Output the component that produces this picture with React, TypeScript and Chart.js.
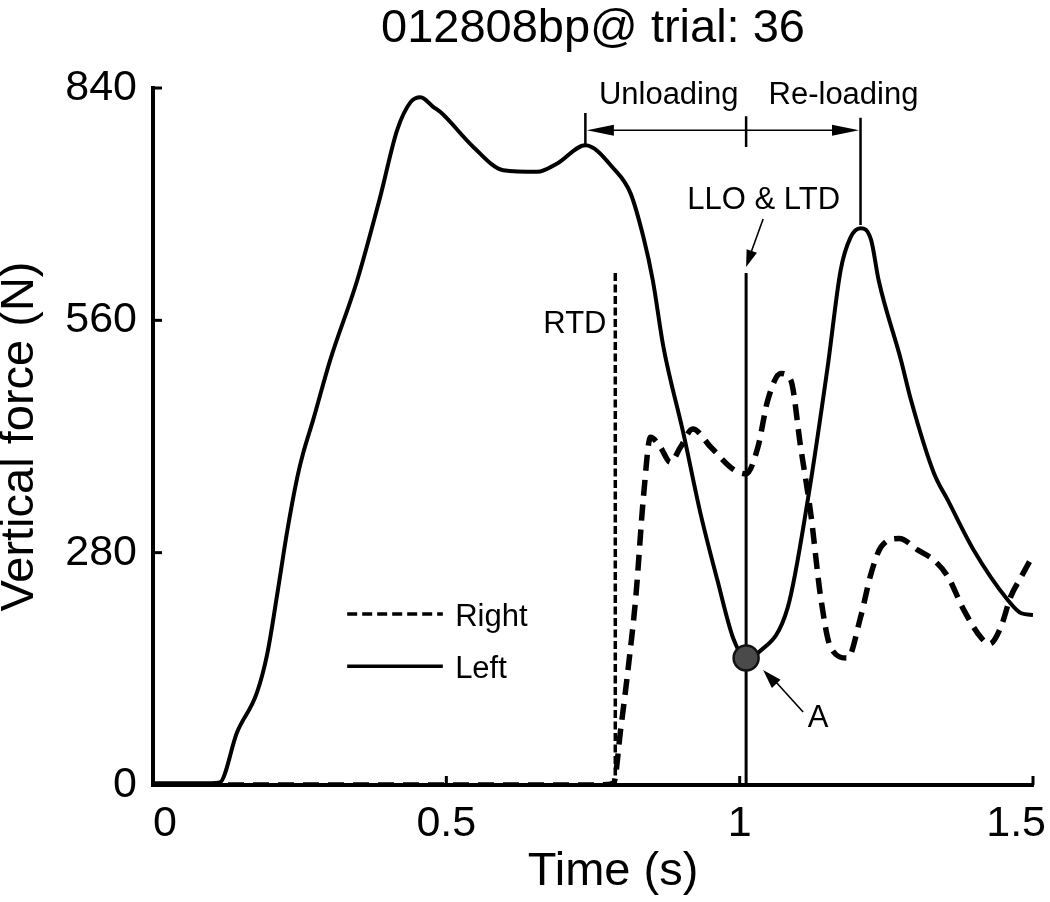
import React, { useEffect, useRef } from "react";
import { Chart, registerables } from "chart.js";

Chart.register(...registerables);

const FONT = "'Liberation Sans', Arial, Helvetica, sans-serif";

const TITLE = "012808bp@ trial: 36";
const X_LABEL = "Time (s)";
const Y_LABEL = "Vertical force (N)";

// Left foot vertical force (solid)
const leftTime = [
  0, 0.05, 0.1, 0.114, 0.143, 0.177, 0.195, 0.212, 0.229, 0.246, 0.256, 0.273,
  0.302, 0.348, 0.387, 0.416, 0.439, 0.456, 0.478, 0.49, 0.546, 0.597, 0.655,
  0.689, 0.737, 0.785, 0.814, 0.836, 0.852, 0.87, 0.904, 0.933, 0.962, 0.99,
  1.011, 1.031, 1.082, 1.116, 1.15, 1.172, 1.189, 1.206, 1.224, 1.237, 1.275,
  1.292, 1.331, 1.355, 1.399, 1.457, 1.48, 1.5,
];
const leftForce = [
  2, 2, 2, 3, 63, 111, 159, 231, 307, 371, 400, 440,
  512, 608, 708, 789, 823, 829, 817, 811, 769, 741, 739,
  749, 771, 743, 713, 660, 608, 528, 424, 328, 247, 175,
  153, 159, 214, 343, 504, 620, 660, 671, 657, 608, 512,
  464, 376, 343, 283, 223, 207, 205,
];

// Right foot vertical force (dashed)
const rightTime = [
  0, 0.4, 0.75, 0.785, 0.797, 0.811, 0.823, 0.836, 0.848, 0.865, 0.882, 0.899,
  0.92, 0.951, 0.99, 1.011, 1.031, 1.048, 1.07, 1.087, 1.104, 1.121, 1.138,
  1.155, 1.184, 1.206, 1.224, 1.241, 1.272, 1.304, 1.331, 1.355, 1.382, 1.411,
  1.426, 1.445, 1.462, 1.48, 1.5,
];
const rightForce = [
  0, 0, 0, 2, 66, 147, 227, 347, 419, 407, 389, 407,
  429, 407, 380, 375, 407, 464, 496, 488, 407, 328, 227,
  166, 153, 202, 255, 287, 297, 283, 271, 251, 211, 178,
  170, 190, 227, 251, 277,
];

const xTicks = [0, 0.5, 1, 1.5];
const xTickLabels = ["0", "0.5", "1", "1.5"];
const yTicks = [0, 280, 560, 840];

// Events / annotations (data coordinates)
const RTD_TIME = 0.788;
const LLO_TIME = 1.011;
const UNLOAD_START = 0.737;
const RELOAD_PEAK = 1.206;
const MARKER_TOP = 617;
const POINT_A_TIME = 1.011;
const POINT_A_FORCE = 153;
const BRACKET_FORCE = 789;
const BRACKET_TOP = 810;
const UNLOAD_TICK_BOTTOM = 771;
const MID_TICK_BOTTOM = 769;
const RELOAD_TICK_BOTTOM = 675;
const PHASE_LABELS = [
  { text: "Unloading", t: 0.879 },
  { text: "Re-loading", t: 1.177 },
];
const PHASE_LABEL_FORCE = 831;
const LLO_LABEL = { text: "LLO & LTD", t: 1.041, f: 704 };
const RTD_LABEL = { text: "RTD", t: 0.773, f: 555 };
const LEGEND_X0 = 0.331;
const LEGEND_X1 = 0.494;
const LEGEND_TEXT_X = 0.515;
const LEGEND_Y = [206, 143];

function arrowHead(
  ctx: CanvasRenderingContext2D,
  tipX: number,
  tipY: number,
  fromX: number,
  fromY: number,
  len: number,
  half: number
) {
  const ang = Math.atan2(tipY - fromY, tipX - fromX);
  const c = Math.cos(ang);
  const s = Math.sin(ang);
  ctx.beginPath();
  ctx.moveTo(tipX, tipY);
  ctx.lineTo(tipX - len * c + half * s, tipY - len * s - half * c);
  ctx.lineTo(tipX - len * c - half * s, tipY - len * s + half * c);
  ctx.closePath();
  ctx.fill();
}

const overlay = {
  id: "overlay",
  beforeDatasetsDraw(chart: any) {
    const ctx: CanvasRenderingContext2D = chart.ctx;
    const xs = chart.scales.x;
    const ys = chart.scales.y;
    ctx.save();
    ctx.strokeStyle = "#000";
    // RTD marker (dotted)
    ctx.lineWidth = 3.5;
    ctx.setLineDash([8, 3.5]);
    ctx.beginPath();
    ctx.moveTo(xs.getPixelForValue(RTD_TIME), ys.getPixelForValue(MARKER_TOP));
    ctx.lineTo(xs.getPixelForValue(RTD_TIME), ys.getPixelForValue(0));
    ctx.stroke();
    // LLO marker (solid)
    ctx.setLineDash([]);
    ctx.lineWidth = 3;
    ctx.beginPath();
    ctx.moveTo(xs.getPixelForValue(LLO_TIME), ys.getPixelForValue(MARKER_TOP));
    ctx.lineTo(xs.getPixelForValue(LLO_TIME), ys.getPixelForValue(0));
    ctx.stroke();
    ctx.restore();
  },
  afterDatasetsDraw(chart: any) {
    const ctx: CanvasRenderingContext2D = chart.ctx;
    const xs = chart.scales.x;
    const ys = chart.scales.y;
    const area = chart.chartArea;
    const X = (v: number) => xs.getPixelForValue(v);
    const Y = (v: number) => ys.getPixelForValue(v);
    ctx.save();
    ctx.fillStyle = "#000";
    ctx.strokeStyle = "#000";

    // inward tick marks
    ctx.lineWidth = 3;
    ctx.setLineDash([]);
    yTicks.forEach((v) => {
      ctx.beginPath();
      ctx.moveTo(area.left, Y(v));
      ctx.lineTo(area.left + 9, Y(v));
      ctx.stroke();
    });
    xTicks.forEach((v) => {
      ctx.beginPath();
      ctx.moveTo(X(v), area.bottom);
      ctx.lineTo(X(v), area.bottom - 9);
      ctx.stroke();
    });

    // x tick labels
    ctx.font = `43px ${FONT}`;
    ctx.textBaseline = "middle";
    xTicks.forEach((v, i) => {
      const label = xTickLabels[i];
      const w = ctx.measureText(label).width;
      let px = X(v);
      let align: CanvasTextAlign = "center";
      if (px - w / 2 < area.left) {
        align = "left";
        px = area.left;
      } else if (px + w / 2 > chart.width - 4) {
        align = "right";
        px = chart.width - 4;
      }
      ctx.textAlign = align;
      ctx.fillText(label, px, area.bottom + 39);
    });

    // chart title and x-axis title
    ctx.font = `47px ${FONT}`;
    ctx.textAlign = "center";
    ctx.fillText(TITLE, (area.left + area.right) / 2, 29);
    ctx.fillText(X_LABEL, (area.left + area.right) / 2 + 20, 872);

    // annotation texts
    ctx.font = `31px ${FONT}`;
    ctx.textAlign = "center";
    PHASE_LABELS.forEach((p) => ctx.fillText(p.text, X(p.t), Y(PHASE_LABEL_FORCE)));
    ctx.fillText(LLO_LABEL.text, X(LLO_LABEL.t), Y(LLO_LABEL.f));
    ctx.textAlign = "right";
    ctx.fillText(RTD_LABEL.text, X(RTD_LABEL.t), Y(RTD_LABEL.f));

    // bracket for unloading / re-loading
    const yb = Y(BRACKET_FORCE);
    const xl = X(UNLOAD_START);
    const xm = X(LLO_TIME);
    const xr = X(RELOAD_PEAK);
    ctx.lineWidth = 1.6;
    ctx.beginPath();
    ctx.moveTo(xl + 10, yb);
    ctx.lineTo(xr - 10, yb);
    ctx.stroke();
    arrowHead(ctx, xl + 1.5, yb, xl + 40, yb, 27, 5.5);
    arrowHead(ctx, xr - 1.5, yb, xr - 40, yb, 27, 5.5);
    ctx.lineWidth = 2.5;
    ctx.beginPath();
    ctx.moveTo(xl, Y(BRACKET_TOP));
    ctx.lineTo(xl, Y(UNLOAD_TICK_BOTTOM));
    ctx.moveTo(xm, Y(BRACKET_TOP - 4));
    ctx.lineTo(xm, Y(MID_TICK_BOTTOM));
    ctx.moveTo(xr, Y(BRACKET_TOP - 6));
    ctx.lineTo(xr, Y(RELOAD_TICK_BOTTOM));
    ctx.stroke();

    // arrow to LLO marker
    const tipX = xm;
    const tipY = Y(MARKER_TOP) - 6;
    ctx.lineWidth = 1.6;
    ctx.beginPath();
    ctx.moveTo(tipX + 17, tipY - 48);
    ctx.lineTo(tipX + 4, tipY - 12);
    ctx.stroke();
    arrowHead(ctx, tipX, tipY, tipX + 17, tipY - 48, 17, 5.5);

    // arrow + label for point A
    const ax = X(POINT_A_TIME);
    const ay = Y(POINT_A_FORCE);
    ctx.beginPath();
    ctx.moveTo(ax + 57, ay + 54);
    ctx.lineTo(ax + 28, ay + 22);
    ctx.stroke();
    arrowHead(ctx, ax + 17, ay + 12, ax + 57, ay + 54, 19, 6);
    ctx.font = `31px ${FONT}`;
    ctx.textAlign = "center";
    ctx.fillText("A", ax + 72, ay + 60);

    // legend
    const sets = chart.data.datasets.filter((d: any) => d.label === "Right" || d.label === "Left");
    sets.forEach((d: any, i: number) => {
      const y = Y(LEGEND_Y[i]);
      ctx.lineWidth = 3.5;
      ctx.setLineDash(d.borderDash && d.borderDash.length ? [10, 5] : []);
      ctx.beginPath();
      ctx.moveTo(X(LEGEND_X0), y);
      ctx.lineTo(X(LEGEND_X1), y);
      ctx.stroke();
      ctx.setLineDash([]);
      ctx.textAlign = "left";
      ctx.fillText(d.label, X(LEGEND_TEXT_X), y + 3);
    });

    ctx.restore();
  },
};

export default function App() {
  const ref = useRef<HTMLCanvasElement>(null);

  useEffect(() => {
    if (!ref.current) return;
    const chart = new Chart(ref.current, {
      type: "line",
      data: {
        datasets: [
          {
            type: "scatter",
            label: "A",
            data: [{ x: POINT_A_TIME, y: POINT_A_FORCE }],
            pointRadius: 12.5,
            pointBackgroundColor: "#4a4a4a",
            pointBorderColor: "#111",
            pointBorderWidth: 2.5,
            order: 0,
          } as any,
          {
            label: "Right",
            data: rightTime.map((t, i) => ({ x: t, y: rightForce[i] })),
            borderColor: "#000",
            borderWidth: 5.5,
            borderDash: [16, 9],
            pointRadius: 0,
            fill: false,
            cubicInterpolationMode: "monotone",
            order: 2,
          },
          {
            label: "Left",
            data: leftTime.map((t, i) => ({ x: t, y: leftForce[i] })),
            borderColor: "#000",
            borderWidth: 4,
            pointRadius: 0,
            fill: false,
            cubicInterpolationMode: "monotone",
            order: 1,
          },
        ],
      },
      options: {
        responsive: false,
        animation: false,
        events: [],
        layout: { padding: { top: 88, right: 17, left: 0, bottom: 0 } },
        plugins: {
          legend: { display: false },
          title: { display: false },
          tooltip: { enabled: false },
        },
        scales: {
          x: {
            type: "linear",
            min: 0,
            max: 1.5,
            grid: { display: false, drawTicks: false },
            border: { display: true, color: "#000", width: 4 },
            ticks: { display: false },
            afterBuildTicks: (s: any) => {
              s.ticks = xTicks.map((v) => ({ value: v }));
            },
            afterFit: (s: any) => {
              s.height = 117;
            },
          },
          y: {
            type: "linear",
            min: 0,
            max: 840,
            grid: { display: false, drawTicks: false },
            border: { display: true, color: "#000", width: 4 },
            ticks: {
              color: "#000",
              padding: 16,
              font: { size: 43, family: FONT },
            },
            afterBuildTicks: (s: any) => {
              s.ticks = yTicks.map((v) => ({ value: v }));
            },
            title: {
              display: true,
              text: Y_LABEL,
              color: "#000",
              font: { size: 47, family: FONT },
              padding: { top: -8, bottom: 0 },
            },
            afterFit: (s: any) => {
              s.width = 153;
            },
          },
        },
      },
      plugins: [overlay],
    });
    return () => chart.destroy();
  }, []);

  return (
    <div
      style={{
        position: "absolute",
        left: 0,
        top: 0,
        width: 1050,
        height: 902,
        background: "#fff",
      }}
    >
      <canvas
        ref={ref}
        width={1050}
        height={902}
        style={{ display: "block", width: 1050, height: 902 }}
      />
    </div>
  );
}
